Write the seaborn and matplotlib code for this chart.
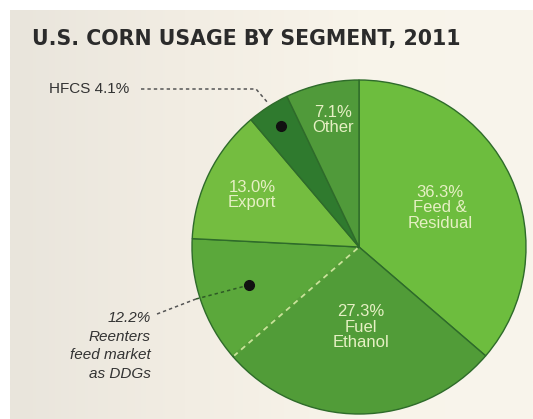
import numpy as np
import matplotlib
matplotlib.use("Agg")
import matplotlib.pyplot as plt
import seaborn as sns
from matplotlib.colors import LinearSegmentedColormap

# ---- data ----
segments = ["Feed & Residual", "Fuel Ethanol", "DDGs", "Export", "HFCS", "Other"]
shares = [36.3, 27.3, 12.2, 13.0, 4.1, 7.1]
inner_labels = ["36.3%\nFeed &\nResidual", "27.3%\nFuel\nEthanol", "", "13.0%\nExport", "", "7.1%\nOther"]
title = "U.S. CORN USAGE BY SEGMENT, 2011"
hfcs_label = "HFCS 4.1%"
ddg_label = "12.2%\nReenters\nfeed market\nas DDGs"

colors = ["#6dbd3e", "#519c38", "#5ba83b", "#74bd40", "#2f7a2e", "#509a3a"]

sns.set_theme(style="white")
plt.rcParams['font.family'] = ['Liberation Sans', 'DejaVu Sans']

W, H = 533, 419
fig = plt.figure(figsize=(W / 100, H / 100), dpi=100, facecolor="white")
ax = fig.add_axes([0, 0, 1, 1])

def P(x, y):
    return x, H - y

cx, cy = P(359, 247)
R = 167

wedges, _ = ax.pie(shares, colors=colors, startangle=90, counterclock=False,
                   center=(cx, cy), radius=R, frame=True,
                   wedgeprops=dict(edgecolor="#2e6b2a", linewidth=1.0))
ax.set_xlim(0, W)
ax.set_ylim(0, H)
ax.set_aspect("auto")
ax.axis("off")
for w in wedges:
    w.set_zorder(2)

# background panel with soft gradient
grad = np.linspace(0, 1, 256)[None, :]
cmap = LinearSegmentedColormap.from_list("bg", ["#e9e5dc", "#f2ede3", "#f8f4ea", "#f9f5ec"])
ax.imshow(grad, extent=(10, W, 0, H - 11), cmap=cmap, aspect="auto", zorder=0)
ax.set_xlim(0, W)
ax.set_ylim(0, H)

# dashed boundary between Fuel Ethanol and DDGs
cum = np.cumsum(shares)
ang_b = np.deg2rad(90 - cum[1] / 100 * 360)
xs = [cx + 2 * np.cos(ang_b), cx + (R - 1.5) * np.cos(ang_b)]
ys = [cy + 2 * np.sin(ang_b), cy + (R - 1.5) * np.sin(ang_b)]
ax.plot(xs, ys, color="#569f39", lw=2.2, zorder=3, solid_capstyle="butt")
ax.plot(xs, ys, color="#c9e39a", lw=1.3, ls=(0, (3, 2.5)), zorder=4)

# inner labels
label_pos = {0: (440, 208), 1: (361, 327), 3: (252, 195), 5: (333, 120)}
for i, (x, y) in label_pos.items():
    ax.text(*P(x, y), inner_labels[i], ha="center", va="center", fontsize=12,
            color="#e6f0c4", linespacing=1.08, zorder=5)

# title
ax.text(*P(32, 39), title, ha="left", va="center", fontsize=14.8,
        fontweight="bold", family="DejaVu Sans", color="#2b2b2b", zorder=5)

def mid_point(i, frac):
    start = (cum[i] - shares[i]) / 100 * 360
    mid = np.deg2rad(90 - (start + shares[i] / 100 * 180))
    return cx + frac * R * np.cos(mid), cy + frac * R * np.sin(mid)

# HFCS callout
dx, dy = mid_point(4, 0.86)
ax.plot([dx], [dy], "o", color="#111111", ms=7, zorder=6)
hx = [141, 256, 262, 268]
hy = [89, 89, 96, 103]
ax.plot(hx, [H - v for v in hy], color="#555555", lw=1.1, ls=(0, (2.2, 2)), zorder=5)
ax.text(*P(49, 89), hfcs_label, ha="left", va="center", fontsize=11,
        color="#333333", zorder=5)

# DDG callout
dx2, dy2 = mid_point(2, 0.70)
ax.plot([dx2], [dy2], "o", color="#111111", ms=7, zorder=6)
ax.plot([157, 196], [H - 314, H - 299], color="#555555", lw=1.1, ls=(0, (2.2, 2)), zorder=5)
ax.plot([196, dx2], [H - 299, dy2], color="#2e5a26", lw=1.1, ls=(0, (2.2, 2)), zorder=5)
ax.text(*P(151, 346), ddg_label, ha="right", va="center", fontsize=11,
        style="italic", color="#333333", linespacing=1.45, zorder=5)

fig.savefig("out.png", dpi=100, facecolor="white")
